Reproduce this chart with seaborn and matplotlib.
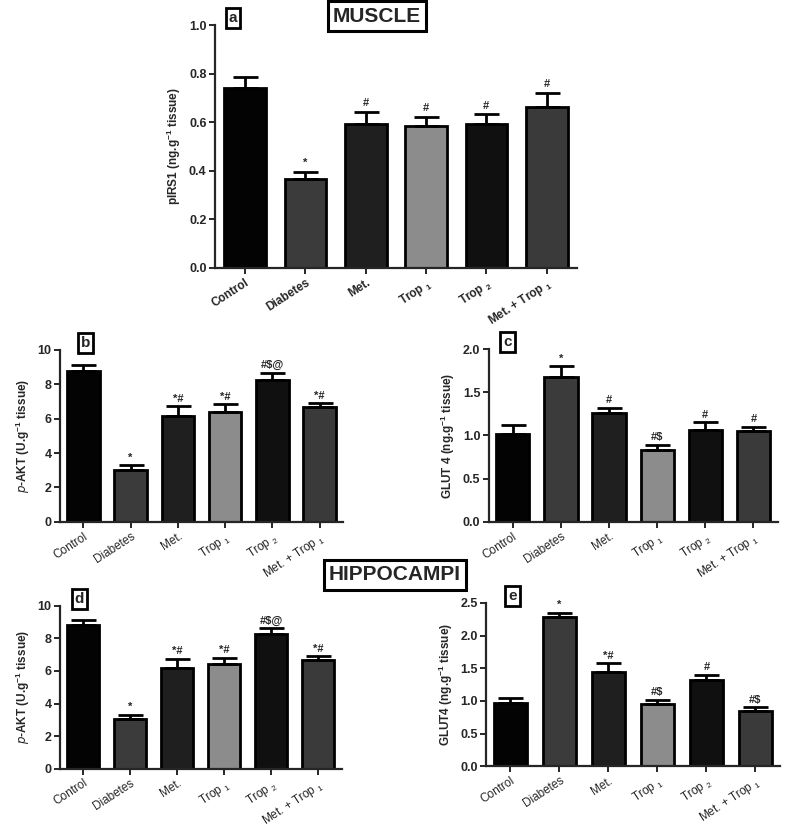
import matplotlib
matplotlib.use("Agg")
import matplotlib.pyplot as plt
import seaborn as sns
import numpy as np

sns.set_style("ticks")
plt.rcParams["font.family"] = ["Liberation Sans", "DejaVu Sans"]
plt.rcParams["mathtext.default"] = "regular"

groups = ["Control", "Diabetes", "Met.", "Trop $_1$", "Trop $_2$", "Met. + Trop $_1$"]
colors = ["#030303", "#3b3b3b", "#1f1f1f", "#8c8c8c", "#101010", "#3a3a3a"]

# panel a - muscle pIRS1
irs1_mean = [0.742, 0.367, 0.592, 0.585, 0.592, 0.664]
irs1_sem = [0.046, 0.030, 0.052, 0.036, 0.041, 0.058]
irs1_sig = ["", "*", "#", "#", "#", "#"]

# panel b - muscle p-AKT
akt_m_mean = [8.78, 3.02, 6.17, 6.38, 8.24, 6.67]
akt_m_sem = [0.35, 0.29, 0.56, 0.45, 0.43, 0.23]
akt_m_sig = ["", "*", "*#", "*#", "#$@", "*#"]

# panel c - muscle GLUT4
glut_m_mean = [1.02, 1.68, 1.257, 0.836, 1.06, 1.056]
glut_m_sem = [0.10, 0.12, 0.063, 0.054, 0.093, 0.044]
glut_m_sig = ["", "*", "#", "#$", "#", "#"]

# panel d - hippocampi p-AKT
akt_h_mean = [8.80, 3.02, 6.18, 6.40, 8.24, 6.68]
akt_h_sem = [0.32, 0.30, 0.58, 0.42, 0.40, 0.22]
akt_h_sig = ["", "*", "*#", "*#", "#$@", "*#"]

# panel e - hippocampi GLUT4
glut_h_mean = [0.964, 2.28, 1.446, 0.954, 1.315, 0.848]
glut_h_sem = [0.080, 0.07, 0.134, 0.066, 0.085, 0.052]
glut_h_sig = ["", "*", "*#", "#$", "#", "#$"]


def panel(rect, mean, sem, sig, ylim, step, ylabel, letter, letter_x, bold_x):
    ax = fig.add_axes(rect)
    sns.barplot(x=groups, y=mean, hue=groups, palette=colors, legend=False,
                width=0.69, edgecolor="black", linewidth=2, ax=ax)
    x = np.arange(len(groups))
    ax.errorbar(x, mean, yerr=[np.zeros(len(x)), sem], fmt="none",
                ecolor="black", elinewidth=2, capsize=9, capthick=2)
    top = np.array(mean) + np.array(sem)
    for xi, ti, s in zip(x, top, sig):
        if s:
            ax.text(xi, ti + ylim * 0.015, s, ha="center", va="bottom",
                    fontsize=8, fontweight="bold")
    ax.set_xlim(-0.5, 5.5)
    ax.set_ylim(0, ylim)
    ticks = np.arange(0, ylim + step / 2, step)
    ax.set_yticks(ticks)
    if step < 1:
        ax.set_yticklabels([f"{v:.1f}" for v in ticks])
    sns.despine(ax=ax)
    for sp in ["left", "bottom"]:
        ax.spines[sp].set_linewidth(1.6)
    ax.tick_params(width=1.4, length=4, labelsize=9, pad=2)
    for lab in ax.get_yticklabels():
        lab.set_fontweight("bold")
    ax.set_xticks(x)
    ax.set_xticklabels(groups, rotation=33, ha="right", rotation_mode="anchor",
                       fontsize=8.5, fontweight="bold" if bold_x else "normal")
    ax.set_ylabel(ylabel, fontsize=8.5, fontweight="bold", labelpad=4)
    ax.set_xlabel("")
    ax.text(letter_x, 1.0, letter, transform=ax.transAxes, ha="center",
            va="bottom", fontsize=11, fontweight="bold",
            bbox=dict(boxstyle="square,pad=0.2", fc="white", ec="black", lw=2))
    return ax


fig = plt.figure(figsize=(7.87, 8.31), dpi=100)

panel([0.273, 0.6775, 0.460, 0.2924], irs1_mean, irs1_sem, irs1_sig, 1.0, 0.2,
      "pIRS1 (ng.g$^{-1}$ tissue)", "a", 0.05, True)
panel([0.076, 0.372, 0.360, 0.207], akt_m_mean, akt_m_sem, akt_m_sig, 10, 2,
      "$\\it{p}$-AKT (U.g$^{-1}$ tissue)", "b", 0.09, False)
panel([0.621, 0.372, 0.367, 0.208], glut_m_mean, glut_m_sem, glut_m_sig, 2.0, 0.5,
      "GLUT 4 (ng.g$^{-1}$ tissue)", "c", 0.065, False)
panel([0.076, 0.075, 0.358, 0.196], akt_h_mean, akt_h_sem, akt_h_sig, 10, 2,
      "$\\it{p}$-AKT (U.g$^{-1}$ tissue)", "d", 0.07, False)
panel([0.6175, 0.078, 0.3736, 0.1965], glut_h_mean, glut_h_sem, glut_h_sig, 2.5, 0.5,
      "GLUT4 (ng.g$^{-1}$ tissue)", "e", 0.09, False)

fig.text(377 / 787, 1 - 16 / 831, "MUSCLE", ha="center", va="center",
         fontsize=15, fontweight="bold",
         bbox=dict(boxstyle="square,pad=0.25", fc="white", ec="black", lw=2.2))
fig.text(395 / 787, 1 - 575 / 831, "HIPPOCAMPI", ha="center", va="center",
         fontsize=15, fontweight="bold",
         bbox=dict(boxstyle="square,pad=0.25", fc="white", ec="black", lw=2.2))

fig.savefig("out.png", dpi=100)
